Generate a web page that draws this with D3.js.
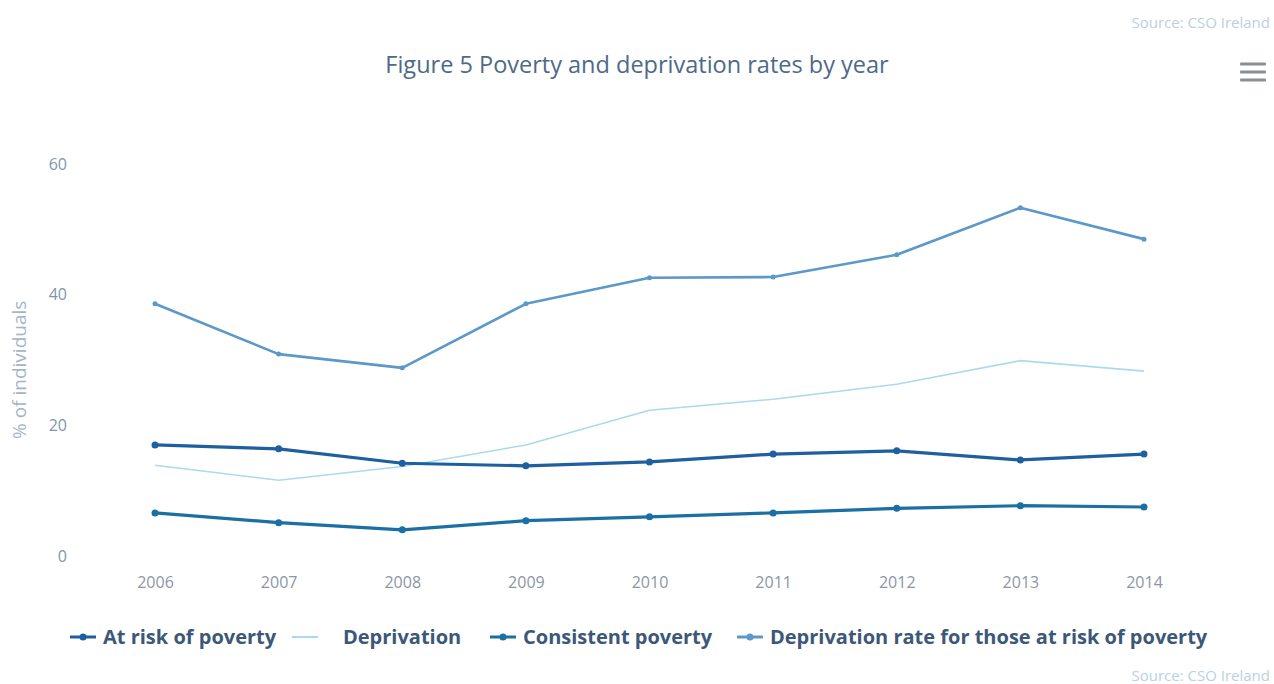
<!DOCTYPE html>
<html>
<head>
<meta charset="utf-8">
<script src="https://d3js.org/d3.v7.min.js"></script>
<style>
  body { margin: 0; background: #fff; }
  svg { display: block; font-family: "Open Sans", "DejaVu Sans", sans-serif; }
</style>
</head>
<body>
<svg width="1274" height="684"></svg>
<script>
var years = ["2006", "2007", "2008", "2009", "2010", "2011", "2012", "2013", "2014"];
var atRisk = [17.0, 16.4, 14.2, 13.8, 14.4, 15.6, 16.1, 14.7, 15.6];
var deprivation = [13.9, 11.6, 13.7, 17.0, 22.3, 24.0, 26.3, 29.9, 28.3];
var consistent = [6.6, 5.1, 4.0, 5.4, 6.0, 6.6, 7.3, 7.7, 7.5];
var deprivAtRisk = [38.6, 30.9, 28.8, 38.6, 42.6, 42.7, 46.1, 53.3, 48.5];
var yTicks = [0, 20, 40, 60];

var seriesNames = ["At risk of poverty", "Deprivation", "Consistent poverty", "Deprivation rate for those at risk of poverty"];
var seriesColors = ["#1d5f9f", "#a9daef", "#1a6fa3", "#5c98c8"];
var seriesWidths = [3.2, 1.6, 3.2, 2.6];
var seriesDots = [true, false, true, true];

var svg = d3.select("svg");
var width = +svg.attr("width"), height = +svg.attr("height");

var x = d3.scalePoint().domain(years).range([155, 1144]);
var y = d3.scaleLinear().domain([0, 60]).range([556, 164]);

// title
svg.append("text")
    .attr("x", 637).attr("y", 73)
    .attr("text-anchor", "middle")
    .style("font-size", "23.5px")
    .style("fill", "#4d6a88")
    .text("Figure 5 Poverty and deprivation rates by year");

// credits
svg.append("text")
    .attr("x", 1270).attr("y", 28)
    .attr("text-anchor", "end")
    .style("font-size", "15px")
    .style("fill", "#bcd0e2")
    .text("Source: CSO Ireland");
svg.append("text")
    .attr("x", 1270).attr("y", 681)
    .attr("text-anchor", "end")
    .style("font-size", "15px")
    .style("fill", "#bcd0e2")
    .text("Source: CSO Ireland");

// menu icon
[64, 72, 80].forEach(function(yy) {
    svg.append("rect")
        .attr("x", 1240).attr("y", yy - 1.5)
        .attr("width", 26).attr("height", 3)
        .attr("rx", 1)
        .style("fill", "#8a8f96");
});

// Y axis labels
var gy = svg.append("g")
    .attr("transform", "translate(67,0)")
    .call(d3.axisLeft(y).tickValues(yTicks).tickSize(0).tickPadding(0));
gy.select(".domain").remove();
gy.selectAll("text")
    .style("font-size", "16px")
    .style("font-family", "\"Open Sans\", \"DejaVu Sans\", sans-serif")
    .style("fill", "#8394aa");

svg.append("text")
    .attr("transform", "translate(26," + y(28.5) + ") rotate(-90)")
    .attr("text-anchor", "middle")
    .style("font-size", "19px")
    .style("fill", "#a6b4c8")
    .text("% of individuals");

// X axis labels
var gx = svg.append("g")
    .attr("transform", "translate(0,571)")
    .call(d3.axisBottom(x).tickSize(0).tickPadding(6));
gx.select(".domain").remove();
gx.selectAll("text")
    .style("font-size", "16px")
    .style("font-family", "\"Open Sans\", \"DejaVu Sans\", sans-serif")
    .style("fill", "#8c96a4");

// lines
var allSeries = [atRisk, deprivation, consistent, deprivAtRisk];
var drawOrder = [3, 1, 2, 0];
var line = d3.line()
    .x(function(d, i) { return x(years[i]); })
    .y(function(d) { return y(d); });

drawOrder.forEach(function(s) {
    var g = svg.append("g");
    g.append("path")
        .datum(allSeries[s])
        .attr("d", line)
        .style("fill", "none")
        .style("stroke", seriesColors[s])
        .style("stroke-width", seriesWidths[s])
        .style("stroke-linejoin", "round");
    if (seriesDots[s]) {
        g.selectAll("circle")
            .data(allSeries[s])
            .enter().append("circle")
                .attr("cx", function(d, i) { return x(years[i]); })
                .attr("cy", function(d) { return y(d); })
                .attr("r", s == 3 ? 2.5 : 3.5)
                .style("fill", seriesColors[s]);
    }
});

// legend
var legendX = [70, 292, 490, 737];
var legend = svg.append("g").attr("transform", "translate(0,637)");
seriesNames.forEach(function(name, i) {
    var item = legend.append("g").attr("transform", "translate(" + legendX[i] + ",0)");
    item.append("line")
        .attr("x1", 0).attr("x2", 26)
        .attr("y1", 0).attr("y2", 0)
        .style("stroke", seriesColors[i])
        .style("stroke-width", i == 1 ? 2 : 3);
    if (seriesDots[i]) {
        item.append("circle").attr("cx", 13).attr("cy", 0).attr("r", 3.5)
            .style("fill", seriesColors[i]);
    }
    item.append("text")
        .attr("x", i == 1 ? 51 : 33).attr("y", 7)
        .style("font-size", "20px")
        .style("font-weight", "bold")
        .style("fill", "#3c5878")
        .text(name);
});
</script>
</body>
</html>
